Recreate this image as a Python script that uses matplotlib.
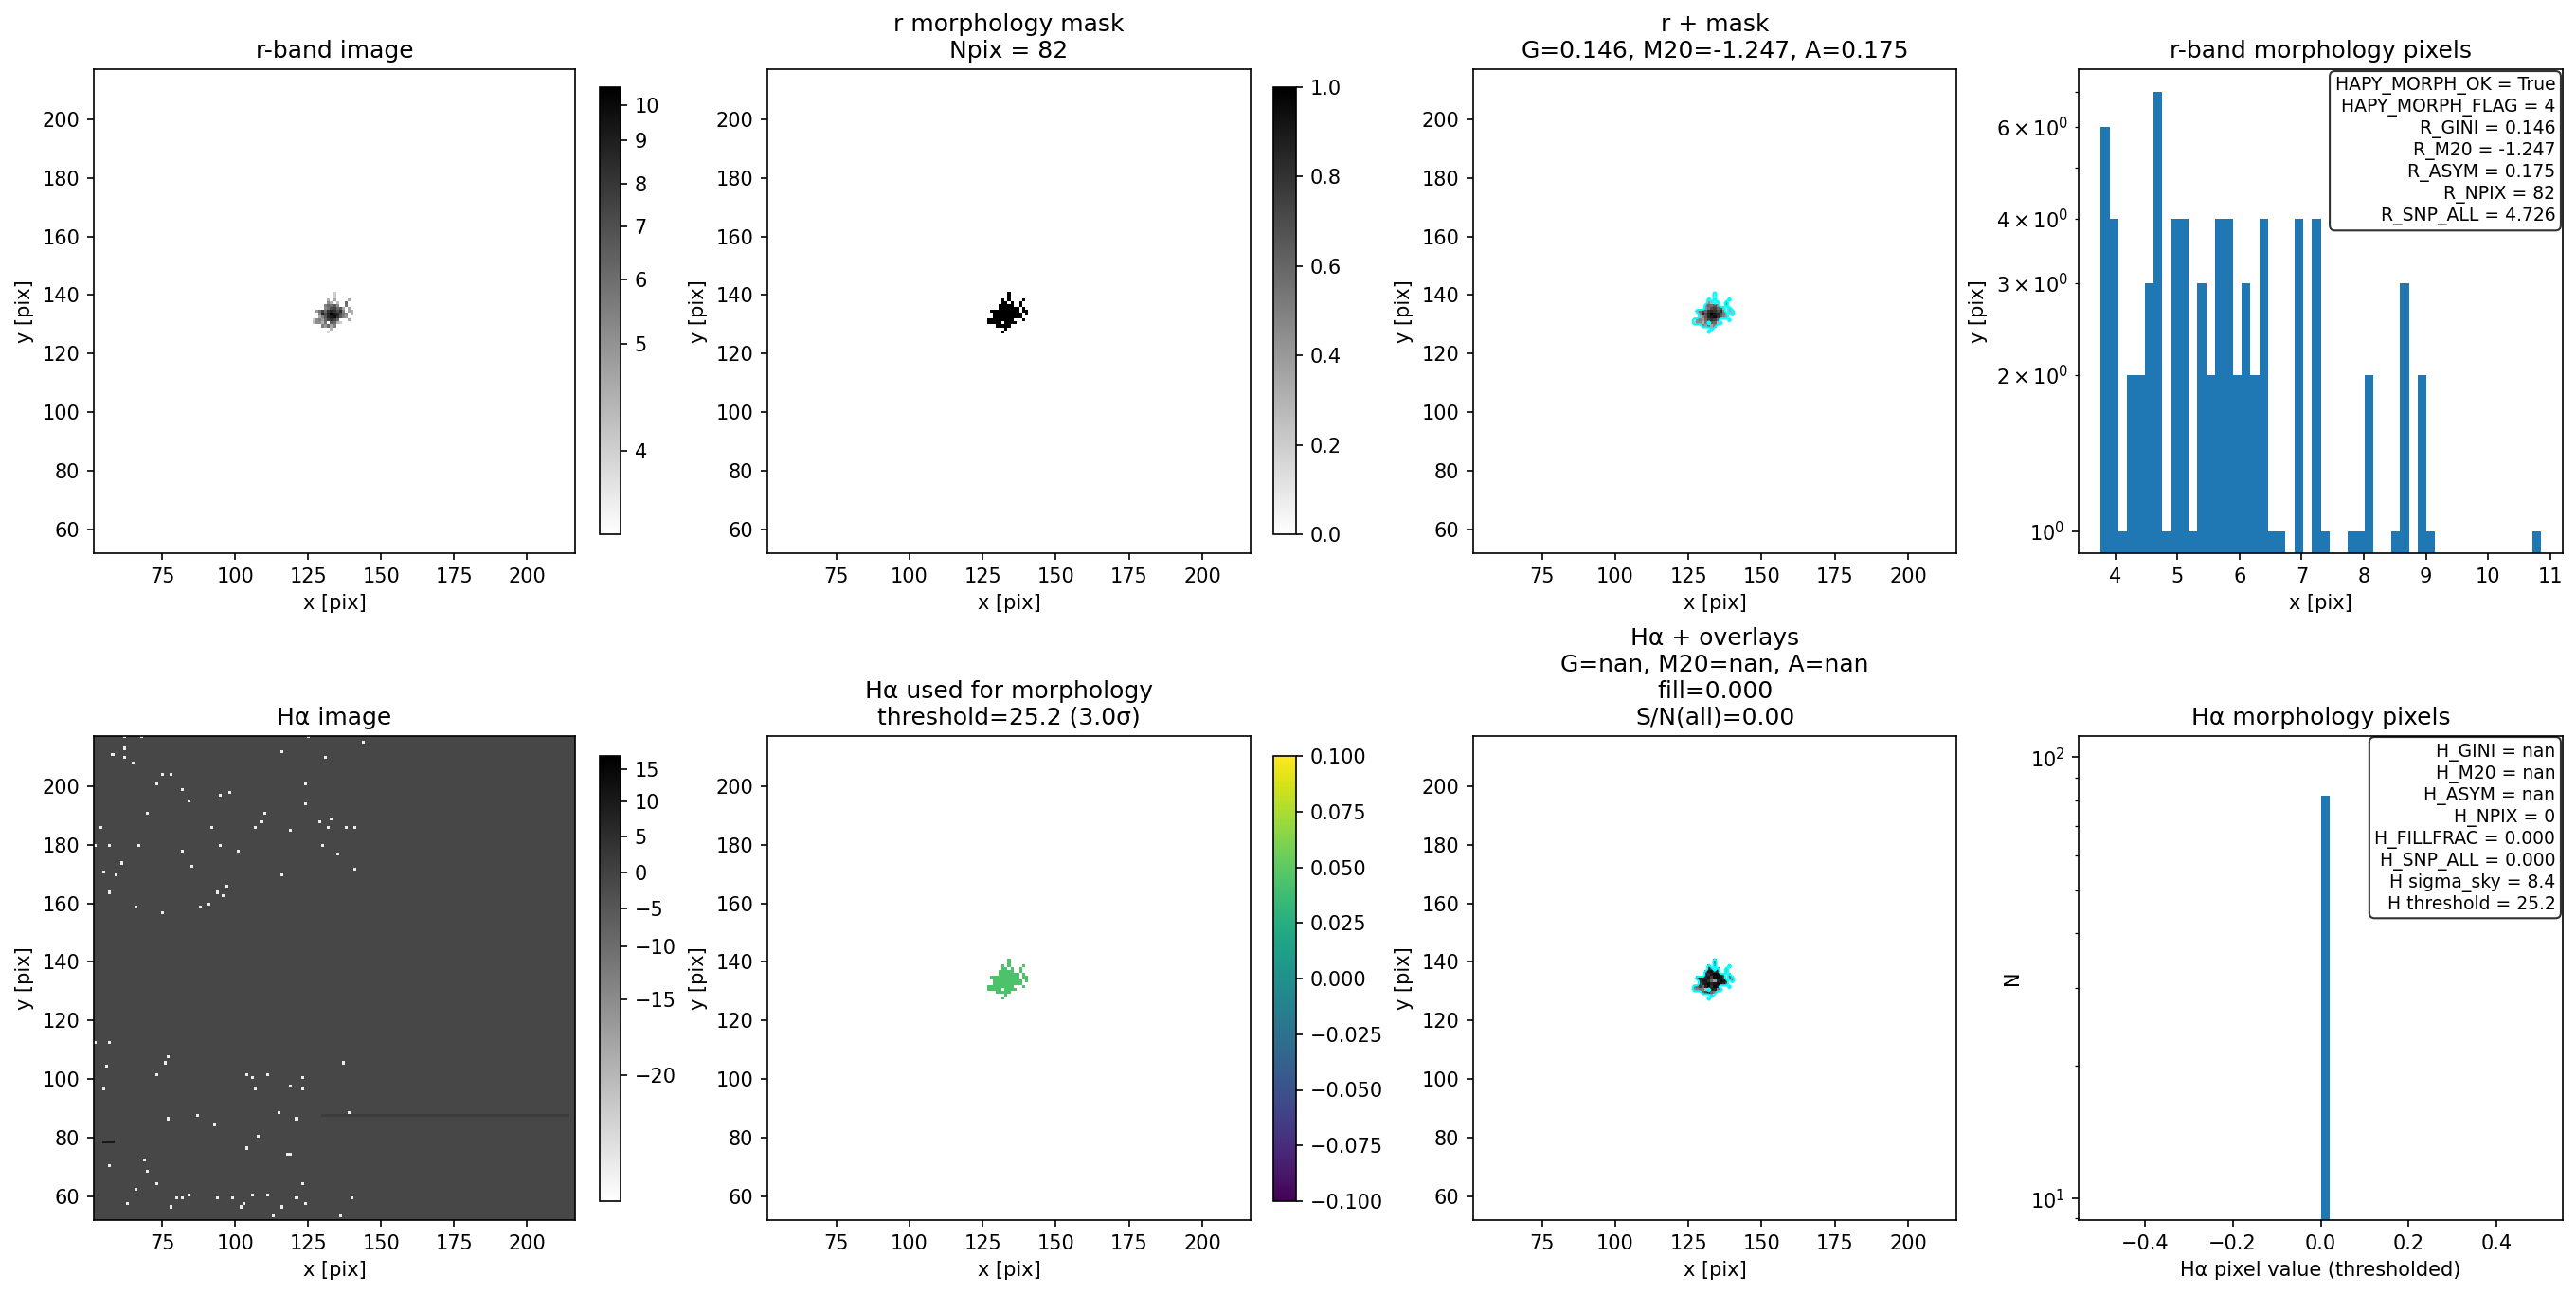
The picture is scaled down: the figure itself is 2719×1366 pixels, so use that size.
import numpy as np
import matplotlib
matplotlib.use("Agg")
import matplotlib.pyplot as plt
from matplotlib.colors import FuncNorm

W, H = 2719, 1366

# pixel grid of the cutouts
x_first, x_last = 52, 216
y_low, y_high = 52.0, 217.0

# mask rows: y pixel -> x pixels
mask_y = [140, 139, 138, 137, 136, 135, 134, 133, 132, 131, 130, 129, 128, 127]
mask_x = [
    [134], [134], [132, 134, 139], [132, 133, 135, 138],
    [131, 132, 133, 134, 135, 138],
    [131, 132, 133, 134, 135, 136, 137, 139],
    [128, 129, 130, 131, 132, 133, 134, 135, 136, 137, 139, 140],
    [129, 130, 131, 132, 133, 134, 135, 136, 137, 138, 140],
    [129, 130, 131, 132, 133, 134, 135, 136, 137, 138],
    [127, 128, 129, 130, 131, 132, 133, 134, 135, 139],
    [127, 128, 129, 130, 131, 133, 134, 135, 136],
    [130, 131, 132, 133, 134], [133], [132],
]
# r-band image values, same order as mask_x
r_values = [
    [4.05], [4.05], [4.45, 4.65, 4.65], [5.15, 4.45, 4.25, 6.2],
    [5.5, 6.2, 5.85, 6.65, 5.15, 5.85],
    [5.15, 5.85, 7.1, 7.6, 6.2, 6.65, 4.65, 4.65],
    [4.85, 5.85, 7.6, 6.2, 8.2, 8.7, 8.2, 7.1, 8.2, 5.5, 4.65, 4.45],
    [5.5, 8.7, 7.1, 8.7, 10.6, 9.2, 8.7, 7.1, 5.85, 5.15, 4.45],
    [4.65, 5.5, 6.65, 8.7, 9.2, 9.8, 8.2, 6.65, 5.5, 4.85],
    [4.05, 5.15, 5.5, 4.85, 6.2, 7.6, 8.2, 7.6, 6.2, 4.65],
    [4.25, 5.15, 5.15, 4.45, 5.85, 6.65, 6.2, 4.45, 4.05],
    [5.5, 4.85, 6.2, 4.65, 5.5], [4.45], [3.9],
]
# grey level of the same pixels in the H-alpha overlay panel
ha_levels = [
    [.7], [.7], [.7, .6, .5], [.9, .7, .6, .5],
    [.7, .9, .9, .8, .85, .4],
    [.85, .8, .9, .95, .95, .85, .7, .5],
    [.7, .85, .8, .85, .9, .75, .95, .95, .9, .8, .6, .4],
    [.8, .9, .9, .8, .6, .4, .85, .95, .9, .8, .5],
    [.7, .85, .9, .95, .85, .9, .95, .9, .85, .7],
    [.5, .6, .75, .6, .85, .95, .8, .95, .9, .9],
    [.45, .5, .55, .5, .3, .9, .85, .5, .4],
    [.6, .7, .9, .6, .5], [.4], [.5],
]

ha_sky = -1.0
ha_low = -24.0
ha_spot = 10.0
ha_streak = 1.5
bright_x = [58, 62, 62, 65, 75, 78, 73, 82, 84, 95, 98, 70, 92, 54, 95, 67, 57, 52, 61, 59, 55, 85,
            82, 101, 110, 109, 107, 119, 124, 124, 129, 133, 132, 138, 141, 130, 135, 116, 141, 97,
            94, 96, 88, 91, 75, 57, 66, 144, 131, 116, 125, 68, 62,
            52, 57, 55, 56, 73, 76, 77, 77, 87, 93, 104, 111, 106, 107, 123, 123, 119, 137, 115,
            121, 139, 108, 104, 118, 119, 69, 57, 70, 73, 66, 80, 82, 84, 94, 99, 106, 111, 121,
            123, 140, 63, 102, 103, 116, 124, 136, 113, 78]
bright_y = [210, 212, 209, 207, 203, 203, 200, 198, 194, 196, 197, 190, 185, 185, 179, 179, 179, 179,
            173, 169, 170, 172, 177, 177, 190, 187, 185, 184, 200, 193, 187, 188, 185, 185, 185, 179,
            176, 169, 171, 165, 163, 162, 158, 159, 156, 163, 158, 214, 209, 211, 216, 216, 216,
            112, 112, 96, 104, 101, 105, 107, 86, 87, 84, 101, 101, 100, 96, 100, 96, 97, 105, 88,
            86, 88, 80, 76, 74, 74, 72, 70, 68, 64, 62, 59, 59, 60, 59, 59, 60, 60, 59,
            64, 59, 57, 56, 57, 56, 57, 53, 53, 56]
dark_streak_y = 87
dark_streak_x = (130, 215)
dark_spot_y = 78
dark_spot_x = (55, 59)

# histograms
r_counts = [6, 4, 1, 2, 2, 3, 7, 1, 4, 4, 1, 3, 2, 4, 4, 2, 3, 2, 4, 1, 1, 0, 4, 0, 4,
            1, 0, 0, 1, 1, 2, 0, 0, 1, 3, 0, 2, 1, 0, 0, 0, 0, 0, 0, 0, 0, 0, 0, 0, 1]
r_hist_range = (3.764, 10.85)
ha_counts = [82]
ha_bin = (0.0, 0.02)

r_text = "\n".join(["HAPY_MORPH_OK = True", "HAPY_MORPH_FLAG = 4", "R_GINI = 0.146", "R_M20 = -1.247",
                    "R_ASYM = 0.175", "R_NPIX = 82", "R_SNP_ALL = 4.726"])
ha_text = "\n".join(["H_GINI = nan", "H_M20 = nan", "H_ASYM = nan", "H_NPIX = 0", "H_FILLFRAC = 0.000",
                     "H_SNP_ALL = 0.000", "H sigma_sky = 8.4", "H threshold = 25.2"])

# colour scales of the two image panels
r_ticks = [3.48, 4, 5, 6, 7, 8, 9, 10, 10.6]
r_pos = [0.0, 0.1875, 0.4265, 0.57, 0.688, 0.783, 0.882, 0.96, 1.0]
ha_ticks = [-25.5, -20, -15, -10, -5, 0, 5, 10, 15, 18]
ha_pos = [0.0, 0.284, 0.454, 0.572, 0.657, 0.738, 0.819, 0.897, 0.970, 1.0]


def interp_norm(vals, pos):
    return FuncNorm((lambda v: np.interp(v, vals, pos), lambda p: np.interp(p, pos, vals)),
                    vmin=vals[0], vmax=vals[-1])


def new_ax(x0, y0, x1, y1):
    # pixel box of the reference -> figure fractions
    return fig.add_axes([x0 / W, 1 - y1 / H, (x1 - x0) / W, (y1 - y0) / H])


def show(ax, img, **kw):
    ax.imshow(img, origin="lower", interpolation="nearest", aspect="auto",
              extent=(x_first - 0.5, x_last + 0.5, y_low, y_high), **kw)
    ax.set_xlabel("x [pix]")
    ax.set_ylabel("y [pix]")
    ax.set_xticks([75, 100, 125, 150, 175, 200])
    ax.set_yticks([60, 80, 100, 120, 140, 160, 180, 200])


def add_box(ax, txt):
    ax.text(0.985, 0.985, txt, transform=ax.transAxes, ha="right", va="top", fontsize=9,
            bbox=dict(boxstyle="round,pad=0.3", facecolor="white", edgecolor="black", alpha=0.8))


n = x_last - x_first + 1
grid_x = np.arange(x_first, x_last + 1)
grid_y = grid_x + (y_low - (x_first - 0.5))
mask = np.zeros((n, n))
r_img = np.full((n, n), np.nan)
ha_blob = np.full((n, n), np.nan)
for i, yy in enumerate(mask_y):
    for j, xx in enumerate(mask_x[i]):
        mask[yy - x_first, xx - x_first] = 1
        r_img[yy - x_first, xx - x_first] = r_values[i][j]
        ha_blob[yy - x_first, xx - x_first] = ha_levels[i][j]

ha_img = np.full((n, n), ha_sky)
ha_img[dark_streak_y - x_first, dark_streak_x[0] - x_first:dark_streak_x[1] - x_first] = ha_streak
ha_img[dark_spot_y - x_first, dark_spot_x[0] - x_first:dark_spot_x[1] - x_first] = ha_spot
ha_img[np.array(bright_y) - x_first, np.array(bright_x) - x_first] = ha_low

ha_green = np.where(mask > 0, 0.044, np.nan)

fig = plt.figure(figsize=(W / 150, H / 150), dpi=150)

col_x = [(99, 607), (810, 1320), (1555, 2065), (2194, 2705)]
row_y = [(73, 584), (777, 1288)]
cb_x = [(633, 655), (1344, 1368)]
cb_y = [(92, 564), (798, 1268)]

r_norm = interp_norm(r_ticks, r_pos)
ha_norm = interp_norm(ha_ticks, ha_pos)

# top row
ax = new_ax(col_x[0][0], row_y[0][0], col_x[0][1], row_y[0][1])
show(ax, r_img, cmap="gray_r", norm=r_norm)
ax.set_title("r-band image", fontsize=12)
cax = new_ax(cb_x[0][0], cb_y[0][0], cb_x[0][1], cb_y[0][1])
fig.colorbar(ax.images[0], cax=cax, ticks=[4, 5, 6, 7, 8, 9, 10])
cax.minorticks_off()

ax = new_ax(col_x[1][0], row_y[0][0], col_x[1][1], row_y[0][1])
show(ax, mask, cmap="gray_r", vmin=0, vmax=1)
ax.set_title("r morphology mask\nNpix = 82", fontsize=12)
cax = new_ax(cb_x[1][0], cb_y[0][0], cb_x[1][1], cb_y[0][1])
fig.colorbar(ax.images[0], cax=cax)

ax = new_ax(col_x[2][0], row_y[0][0], col_x[2][1], row_y[0][1])
show(ax, r_img, cmap="gray_r", norm=r_norm)
ax.contour(grid_x, grid_y, mask, levels=[0.5], colors="cyan", linewidths=1.0)
ax.set_title("r + mask\nG=0.146, M20=-1.247, A=0.175", fontsize=12)

ax = new_ax(col_x[3][0], row_y[0][0], col_x[3][1], row_y[0][1])
edges = np.linspace(r_hist_range[0], r_hist_range[1], len(r_counts) + 1)
ax.hist(edges[:-1], bins=edges, weights=r_counts, log=True, color="C0")
ax.set_xlim(3.41, 11.2)
ax.set_ylim(0.907, 7.75)
ax.set_xlabel("x [pix]")
ax.set_ylabel("y [pix]")
ax.set_title("r-band morphology pixels", fontsize=12)
add_box(ax, r_text)

# bottom row
ax = new_ax(col_x[0][0], row_y[1][0], col_x[0][1], row_y[1][1])
show(ax, ha_img, cmap="gray_r", norm=ha_norm)
ax.set_title("H\u03b1 image", fontsize=12)
cax = new_ax(cb_x[0][0], cb_y[1][0], cb_x[0][1], cb_y[1][1])
fig.colorbar(ax.images[0], cax=cax, ticks=[-20, -15, -10, -5, 0, 5, 10, 15])
cax.minorticks_off()

ax = new_ax(col_x[1][0], row_y[1][0], col_x[1][1], row_y[1][1])
show(ax, ha_green, cmap="viridis", vmin=-0.1, vmax=0.1)
ax.set_title("H\u03b1 used for morphology\nthreshold=25.2 (3.0\u03c3)", fontsize=12)
cax = new_ax(cb_x[1][0], cb_y[1][0], cb_x[1][1], cb_y[1][1])
fig.colorbar(ax.images[0], cax=cax)

ax = new_ax(col_x[2][0], row_y[1][0], col_x[2][1], row_y[1][1])
show(ax, ha_blob, cmap="gray_r", vmin=0, vmax=1)
ax.contour(grid_x, grid_y, mask, levels=[0.5], colors="cyan", linewidths=1.0)
ax.set_title("H\u03b1 + overlays\nG=nan, M20=nan, A=nan\nfill=0.000\nS/N(all)=0.00", fontsize=12)

ax = new_ax(col_x[3][0], row_y[1][0], col_x[3][1], row_y[1][1])
ax.hist([ha_bin[0]], bins=ha_bin, weights=ha_counts, log=True, color="C0")
ax.set_xlim(-0.55, 0.55)
ax.set_ylim(8.93, 111.7)
ax.set_xlabel("H\u03b1 pixel value (thresholded)")
ax.set_ylabel("N")
ax.set_title("H\u03b1 morphology pixels", fontsize=12)
add_box(ax, ha_text)

fig.savefig("out.png", dpi=150)
